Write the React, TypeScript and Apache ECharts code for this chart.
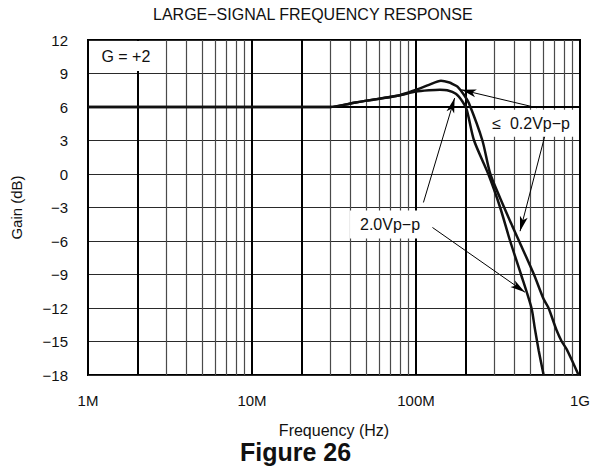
import React, { useEffect, useRef } from 'react';
import * as echarts from 'echarts';

// ---- data ----
const decadeTicks = [1e6, 1e7, 1e8, 1e9];
const tickLabels = ['1M', '10M', '100M', '1G'];
const minorGridFreqs = [
  2e6, 3e6, 4e6, 5e6, 6e6, 7e6, 8e6, 9e6,
  2e7, 3e7, 4e7, 5e7, 6e7, 7e7, 8e7, 9e7,
  2e8, 3e8, 4e8, 5e8, 6e8, 7e8, 8e8, 9e8,
];
const boldGridFreqs = [2e6, 2e7, 2e8];

// <= 0.2 Vp-p
const freqSmall = [1e6, 1e7, 3e7, 4e7, 5e7, 7.7e7, 1e8, 1.2e8, 1.42e8, 1.6e8, 1.7e8, 1.79e8, 1.96e8, 2.1e8, 2.54e8, 2.84e8, 3.45e8, 3.85e8, 4.25e8, 5.24e8, 6.0e8, 6.43e8, 7.2e8, 7.74e8, 8.3e8, 9.0e8, 9.8e8];
const gainSmall = [6, 6, 6, 6.32, 6.57, 7.0, 7.54, 7.98, 8.34, 8.19, 8.0, 7.83, 7.1, 6.35, 3, 0, -3, -4.6, -6, -9, -11.2, -12, -14, -15, -15.7, -16.8, -18];

// 2.0 Vp-p
const freqLarge = [1e6, 1e7, 3e7, 4e7, 5e7, 7.7e7, 1e8, 1.2e8, 1.4e8, 1.55e8, 1.75e8, 1.92e8, 2.04e8, 2.26e8, 2.76e8, 3.26e8, 3.75e8, 4.37e8, 5.06e8, 5.3e8, 5.6e8, 6.0e8];
const gainLarge = [6, 6, 6, 6.32, 6.57, 7.0, 7.38, 7.5, 7.55, 7.5, 7.18, 6.49, 5.75, 3, 0, -3, -6, -9, -12, -13.8, -15.8, -18];

// annotation arrows: [start, tip] in data coordinates
const arrowsSmall = [
  [[5.47e8, 5.93], [1.89e8, 7.54]],
  [[6.11e8, 3.43], [4.31e8, -5.12]],
];
const arrowsLarge = [
  [[1.11e8, -2.55], [1.72e8, 6.8]],
  [[1.26e8, -4.79], [4.62e8, -10.59]],
];

// annotation label boxes (data coordinates): [fLeft, dBTop, fRight, dBBottom]
const labelTexts = ['G = +2', '≤  0.2Vp−p', '2.0Vp−p'];
const labelBoxes = [
  [1.02e6, 11.9, 2.96e6, 9.23],
  [2.72e8, 5.75, 9.29e8, 3.34],
  [3.96e7, -3.27, 1.18e8, -5.77],
];
const labelPadLeft = [12, 5, 10];

const FONT = '"Liberation Sans", Arial, Helvetica, sans-serif';

export default function App() {
  const ref = useRef<HTMLDivElement>(null);
  useEffect(() => {
    if (!ref.current) return;
    const chart = echarts.init(ref.current, undefined, { renderer: 'svg' });
    const arrowMark = (arr: number[][][]) => ({
      silent: true,
      z: 5,
      symbol: ['none', 'arrow'],
      symbolSize: [6, 15],
      label: { show: false },
      lineStyle: { color: '#000', width: 1, type: 'solid' },
      emphasis: { disabled: true },
      data: arr.map(([s, t]) => [{ coord: s }, { coord: t }]),
    });
    chart.setOption({
      animation: false,
      backgroundColor: '#fff',
      textStyle: { fontFamily: FONT },
      title: [
        {
          text: 'LARGE−SIGNAL FREQUENCY RESPONSE',
          left: 153,
          top: 6,
          padding: 0,
          textStyle: { fontSize: 16, fontWeight: 'normal', color: '#111', fontFamily: FONT },
        },
        {
          text: 'Figure 26',
          left: 240,
          top: 439,
          padding: 0,
          textStyle: { fontSize: 25, fontWeight: 'bold', color: '#111', fontFamily: FONT },
        },
      ],
      grid: {
        show: true,
        left: 88,
        right: 10,
        top: 40,
        bottom: 95,
        borderColor: '#000',
        borderWidth: 2,
      },
      xAxis: {
        type: 'log',
        logBase: 10,
        min: decadeTicks[0],
        max: decadeTicks[decadeTicks.length - 1],
        name: 'Frequency (Hz)',
        nameLocation: 'middle',
        nameGap: 47,
        nameTextStyle: { fontSize: 16, color: '#111', fontFamily: FONT },
        axisLine: { show: false },
        axisTick: { show: false },
        axisLabel: {
          fontSize: 15,
          color: '#111',
          margin: 18,
          fontFamily: FONT,
          formatter: (v: number) => tickLabels[Math.round(Math.log10(v)) - 6] ?? '',
        },
        splitLine: { show: true, lineStyle: { color: '#000', width: 2 } },
      },
      yAxis: {
        type: 'value',
        min: -18,
        max: 12,
        interval: 3,
        name: 'Gain (dB)',
        nameLocation: 'middle',
        nameGap: 64,
        nameTextStyle: { fontSize: 15, color: '#111', fontFamily: FONT },
        axisLine: { show: false },
        axisTick: { show: false },
        axisLabel: {
          fontSize: 15,
          color: '#111',
          margin: 20,
          fontFamily: FONT,
          formatter: (v: number) => (v < 0 ? '−' + Math.abs(v) : String(v)),
        },
        splitLine: { show: true, lineStyle: { color: '#2a2a2a', width: 1.2 } },
      },
      series: [
        {
          name: 'grid',
          type: 'line',
          data: [],
          silent: true,
          markLine: {
            silent: true,
            z: 1,
            symbol: ['none', 'none'],
            label: { show: false },
            emphasis: { disabled: true },
            lineStyle: { color: '#4a4a4a', width: 1.2, type: 'solid' },
            data: [
              ...minorGridFreqs.map((f) =>
                boldGridFreqs.includes(f)
                  ? { xAxis: f, lineStyle: { color: '#000', width: 2, type: 'solid' } }
                  : { xAxis: f }
              ),
              { yAxis: 6, lineStyle: { color: '#000', width: 2, type: 'solid' } },
            ],
          },
        },
        {
          name: '≤ 0.2Vp−p',
          type: 'line',
          z: 3,
          smooth: 0.25,
          showSymbol: false,
          symbol: 'none',
          lineStyle: { color: '#111', width: 2.5 },
          data: freqSmall.map((f, i) => [f, gainSmall[i]]),
          markLine: arrowMark(arrowsSmall),
        },
        {
          name: '2.0Vp−p',
          type: 'line',
          z: 3,
          smooth: 0.25,
          showSymbol: false,
          symbol: 'none',
          lineStyle: { color: '#111', width: 2.5 },
          data: freqLarge.map((f, i) => [f, gainLarge[i]]),
          markLine: arrowMark(arrowsLarge),
        },
        {
          name: 'labels',
          type: 'custom',
          coordinateSystem: 'cartesian2d',
          z: 20,
          silent: true,
          clip: false,
          encode: { x: [0, 2], y: [1, 3] },
          data: labelBoxes,
          renderItem: (params: any, api: any) => {
            const i = params.dataIndex;
            const p0 = api.coord([api.value(0), api.value(1)]);
            const p1 = api.coord([api.value(2), api.value(3)]);
            return {
              type: 'group',
              children: [
                {
                  type: 'rect',
                  shape: { x: p0[0], y: p0[1], width: p1[0] - p0[0], height: p1[1] - p0[1] },
                  style: { fill: '#ffffff' },
                },
                {
                  type: 'text',
                  x: p0[0] + labelPadLeft[i],
                  y: (p0[1] + p1[1]) / 2,
                  style: {
                    text: labelTexts[i],
                    font: `16px ${FONT}`,
                    fill: '#111',
                    textAlign: 'left',
                    textVerticalAlign: 'middle',
                  },
                },
              ],
            };
          },
        },
      ],
    });
    return () => chart.dispose();
  }, []);
  return (
    <div
      ref={ref}
      style={{ position: 'fixed', left: 0, top: 0, width: 593, height: 470, background: '#fff' }}
    />
  );
}
